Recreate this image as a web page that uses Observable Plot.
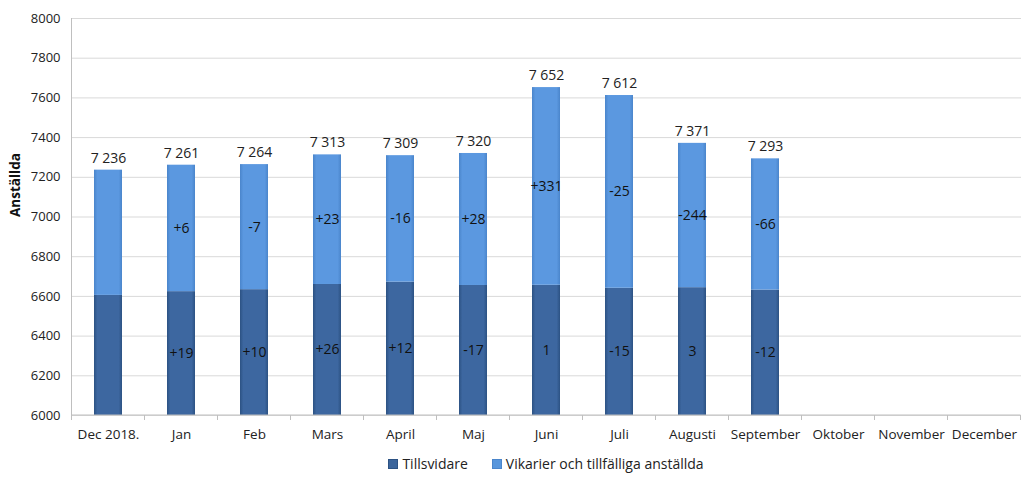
<!DOCTYPE html>
<html>
<head>
<meta charset="utf-8">
<script src="https://cdn.jsdelivr.net/npm/d3@7"></script>
<script src="https://cdn.jsdelivr.net/npm/@observablehq/plot@0.6"></script>
<style>
  html, body { margin: 0; padding: 0; background: #fff; }
  body { width: 1022px; height: 487px; overflow: hidden; font-family: "Open Sans", sans-serif; }
  #legend { display: flex; justify-content: center; gap: 24px; font-size: 14px; color: #222; margin-left: 70px; margin-top: 2px; }
  #legend span.sw { display: inline-block; width: 8px; height: 8px; margin-right: 4px; vertical-align: 0px; }
</style>
</head>
<body>
<div id="chart"></div>
<div id="legend"></div>
<script>
const months = ["Dec 2018.", "Jan", "Feb", "Mars", "April", "Maj", "Juni", "Juli", "Augusti", "September", "Oktober", "November", "December"];
const seriesNames = ["Tillsvidare", "Vikarier och tillfälliga anställda"];
const tillsvidare = [6605, 6624, 6634, 6660, 6672, 6655, 6656, 6641, 6644, 6632];
const vikarier = [631, 637, 630, 653, 637, 665, 996, 971, 727, 661];
const totals = [7236, 7261, 7264, 7313, 7309, 7320, 7652, 7612, 7371, 7293];
const deltaTillsvidare = [null, "+19", "+10", "+26", "+12", "-17", "1", "-15", "3", "-12"];
const deltaVikarier = [null, "+6", "-7", "+23", "-16", "+28", "+331", "-25", "-244", "-66"];
const yTicks = [6000, 6200, 6400, 6600, 6800, 7000, 7200, 7400, 7600, 7800, 8000];

const yMin = yTicks[0];
const rows = tillsvidare.map((t, i) => ({
  month: months[i],
  t, v: vikarier[i], total: totals[i],
  dT: deltaTillsvidare[i], dV: deltaVikarier[i]
}));

const fmt = n => String(n).replace(/\B(?=(\d{3})+(?!\d))/g, " ");

const chart = Plot.plot({
  width: 1022,
  height: 452,
  marginTop: 18,
  marginBottom: 37,
  marginLeft: 72,
  marginRight: 1,
  style: { fontFamily: "Open Sans, sans-serif", fontSize: "13px", color: "#222", background: "#fff" },
  x: { domain: months, paddingInner: 0.61, paddingOuter: 0.305, label: null },
  y: { domain: [yTicks[0], yTicks[yTicks.length - 1]], label: null },
  marks: [
    Plot.gridY(yTicks, { stroke: "#d9d9d9", strokeOpacity: 1 }),
    Plot.axisY(yTicks, { tickSize: 0, tickPadding: 12, tickFormat: d => String(d), label: null, fontSize: 13 }),
    Plot.axisX({ tickSize: 0, tickPadding: 14, label: null, fontSize: 13.5 }),
    Plot.barY(rows, { x: "month", y1: () => yMin, y2: "t", fill: "url(#gradT)" }),
    Plot.barY(rows, { x: "month", y1: "t", y2: d => d.t + d.v, fill: "url(#gradV)" }),
    Plot.text(rows, { x: "month", y: "total", text: d => fmt(d.total), dy: -12, fontSize: 14, fill: "#222" }),
    Plot.text(rows.filter(d => d.dT), { x: "month", y: d => (yMin + d.t) / 2, text: "dT", fontSize: 14, fill: "#111" }),
    Plot.text(rows.filter(d => d.dV), { x: "month", y: d => d.t + d.v / 2, text: "dV", fontSize: 14, fill: "#111" }),
    Plot.text(["Anställda"], { frameAnchor: "left", rotate: -90, dx: -57, fontWeight: "bold", fontSize: 13.5, fill: "#111" })
  ]
});

document.getElementById("chart").append(chart);

// gradients for the bevelled bars
const svg = d3.select(chart);
const defs = svg.insert("defs", ":first-child");
function grad(id, edge, mid) {
  const g = defs.append("linearGradient").attr("id", id).attr("x1", "0").attr("x2", "1").attr("y1", "0").attr("y2", "0");
  g.append("stop").attr("offset", "0%").attr("stop-color", edge);
  g.append("stop").attr("offset", "12%").attr("stop-color", mid);
  g.append("stop").attr("offset", "88%").attr("stop-color", mid);
  g.append("stop").attr("offset", "100%").attr("stop-color", edge);
}
grad("gradT", "#2c5283", "#3d67a0");
grad("gradV", "#4a85cb", "#5b98e0");

// axis line and category boundary ticks, from the scales
const sx = chart.scale("x"), sy = chart.scale("y");
const step = sx.step, bw = sx.bandwidth;
const yb = sy.apply(yMin), yt = sy.apply(yTicks[yTicks.length - 1]);
const g = svg.append("g").attr("stroke", "#bfbfbf");
const x0 = sx.apply(months[0]) - (step - bw) / 2;
g.append("line").attr("x1", x0).attr("x2", x0).attr("y1", yt).attr("y2", yb + 5);
g.append("line").attr("x1", x0).attr("x2", x0 + step * months.length).attr("y1", yb).attr("y2", yb);
months.forEach(m => {
  const xe = sx.apply(m) + bw + (step - bw) / 2;
  g.append("line").attr("x1", xe).attr("x2", xe).attr("y1", yb).attr("y2", yb + 5);
});

// legend
const legend = d3.select("#legend");
const sw = ["#3b659c", "#5896dc"];
seriesNames.forEach((n, i) => {
  const item = legend.append("div");
  item.append("span").attr("class", "sw").style("background", sw[i]).style("border", "1px solid " + (i ? "#4a85cb" : "#2c5283"));
  item.append("span").text(n);
});
</script>
</body>
</html>
